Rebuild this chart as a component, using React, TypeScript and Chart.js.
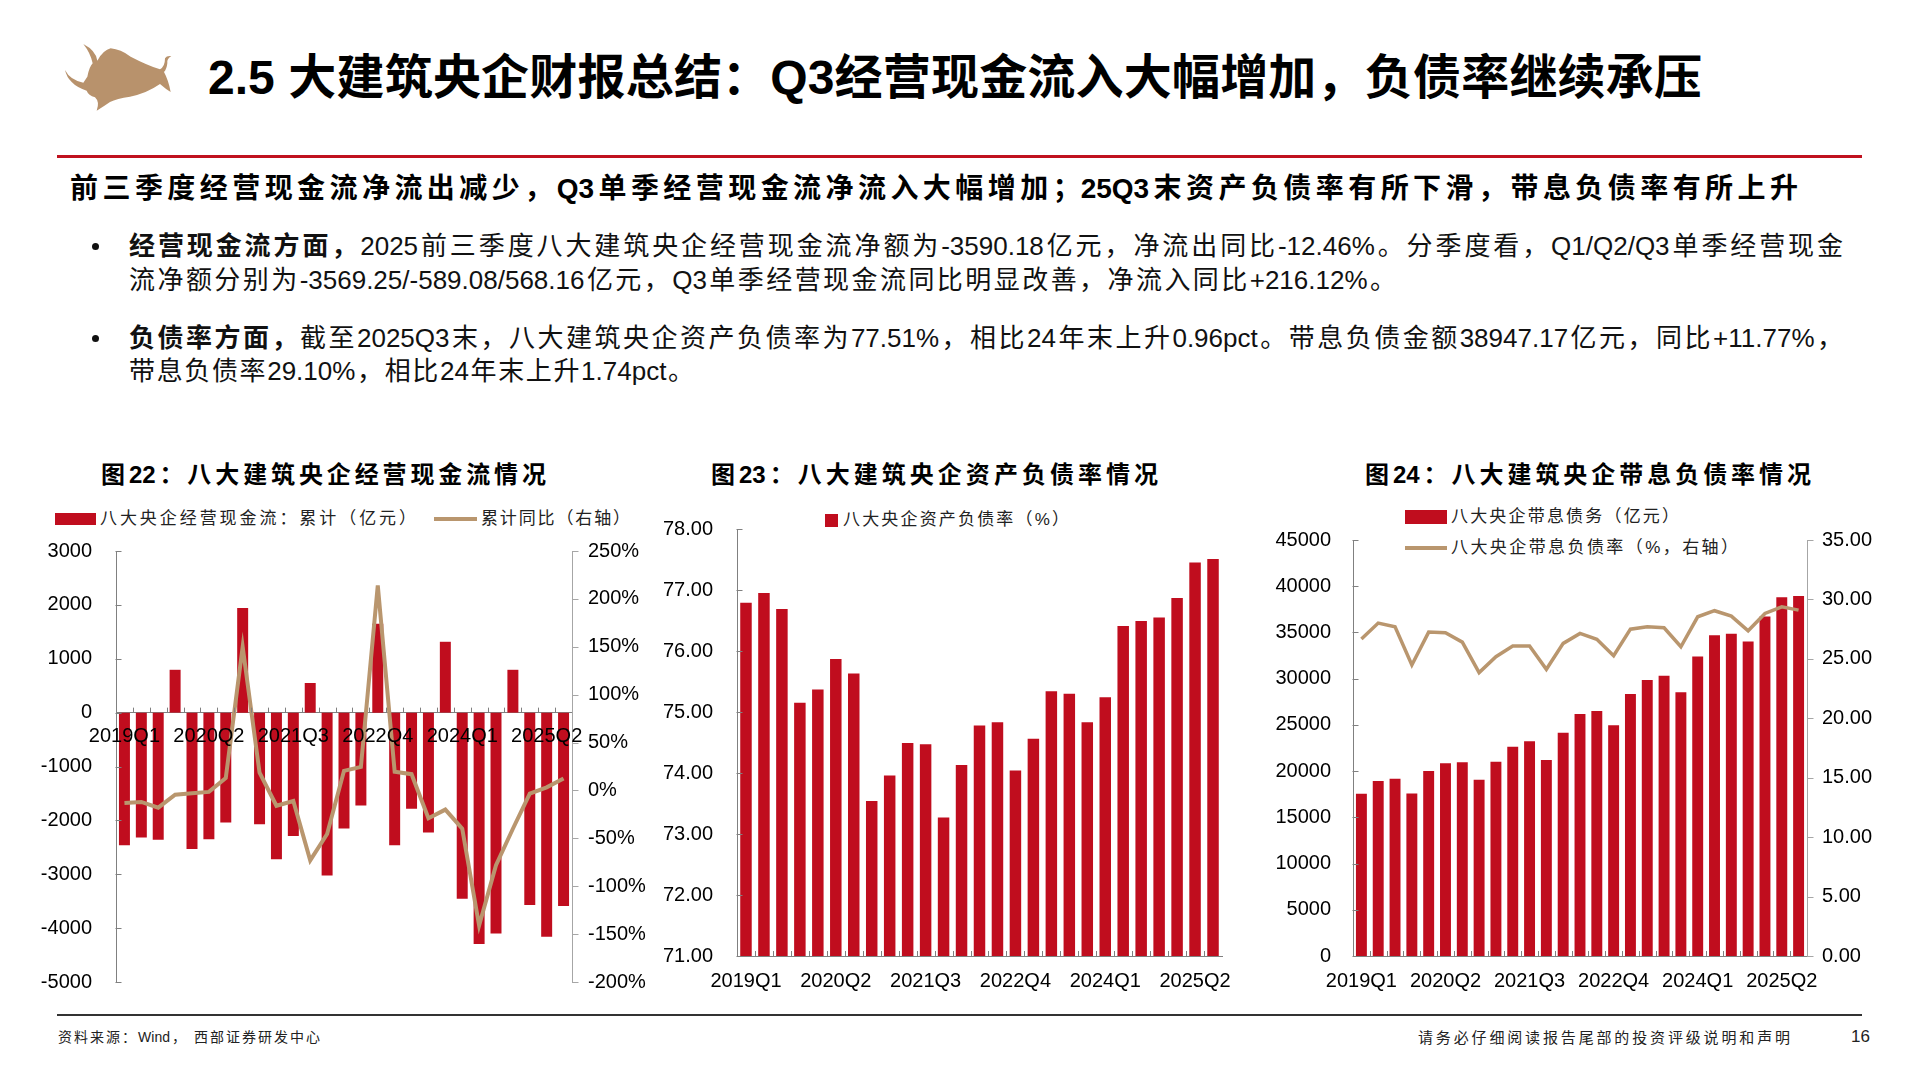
import React, { useEffect, useRef } from 'react';
import { Chart, registerables } from 'chart.js';

Chart.register(...registerables);

// ---------- data ----------
const quarters: string[] = [
  '2019Q1', '2019Q2', '2019Q3', '2019Q4',
  '2020Q1', '2020Q2', '2020Q3', '2020Q4',
  '2021Q1', '2021Q2', '2021Q3', '2021Q4',
  '2022Q1', '2022Q2', '2022Q3', '2022Q4',
  '2023Q1', '2023Q2', '2023Q3', '2023Q4',
  '2024Q1', '2024Q2', '2024Q3', '2024Q4',
  '2025Q1', '2025Q2', '2025Q3',
];
const xTickLabels: string[] = ['2019Q1', '2020Q2', '2021Q3', '2022Q4', '2024Q1', '2025Q2'];

// 图22 八大央企经营现金流：累计（亿元）
const cashFlowCum: number[] = [
  -2460, -2320, -2360, 795,
  -2530, -2350, -2040, 1940,
  -2070, -2720, -2290, 550,
  -3025, -2150, -1725, 1650,
  -2460, -1785, -2225, 1315,
  -3455, -4295, -4101, 795,
  -3569.25, -4158.33, -3590.18,
];
// 累计同比（右轴，%）
const cashFlowYoY: number[] = [
  -13, -12, -18, -4.5,
  -3, -1.5, 13, 150,
  18.5, -16, -11, -73,
  -45.5, 20.5, 24.5, 214,
  19.5, 17, -29, -20,
  -40, -141, -78, -40,
  -3.3, 3.2, 12.46,
];
const cashLeftTicks = { min: -5000, max: 3000, step: 1000 };
const cashRightTicks = { min: -200, max: 250, step: 50 };

// 图23 八大央企资产负债率（%）
const assetLiabRatio: number[] = [
  76.79, 76.95, 76.69, 75.15,
  75.37, 75.87, 75.63, 73.54,
  73.96, 74.49, 74.47, 73.27,
  74.13, 74.78, 74.83, 74.04,
  74.56, 75.34, 75.30, 74.83,
  75.24, 76.41, 76.49, 76.55,
  76.87, 77.45, 77.51,
];
const ratioTicks = { min: 71, max: 78, step: 1 };

// 图24 八大央企带息债务（亿元）
const interestDebt: number[] = [
  17550, 18920, 19170, 17590,
  20000, 20860, 20970, 19070,
  21010, 22630, 23240, 21190,
  24140, 26190, 26510, 24960,
  28350, 29860, 30320, 28530,
  32410, 34710, 34850, 34030,
  36730, 38800, 38947.17,
];
// 八大央企带息负债率（%，右轴）
const interestDebtRatio: number[] = [
  26.67, 28.01, 27.7, 24.48,
  27.25, 27.2, 26.41, 23.84,
  25.18, 26.08, 26.08, 24.12,
  26.3, 27.14, 26.64, 25.27,
  27.5, 27.7, 27.62, 26.02,
  28.54, 29.05, 28.6, 27.36,
  28.82, 29.38, 29.1,
];
const debtLeftTicks = { min: 0, max: 45000, step: 5000 };
const debtRightTicks = { min: 0, max: 35, step: 5 };

// ---------- styles ----------
const RED = '#C00D1E';
const TAN = '#B9966E';
const AXIS = '#808080';
const AXIS_LIGHT = '#A6A6A6';
const FONT_NUM = '"Liberation Sans", Arial, sans-serif';
const FONT_CJK = '"Liberation Sans", "Noto Sans CJK SC", sans-serif';
const tickFont = { family: FONT_NUM, size: 20 };

const tickMarks = {
  id: 'tickMarks',
  afterDatasetsDraw(chart: any) {
    const ctx = chart.ctx;
    ctx.save();
    ctx.lineWidth = 1;
    Object.values(chart.scales).forEach((s: any) => {
      ctx.strokeStyle = s.options.border.color;
      if (s.axis === 'y') {
        const x = s.position === 'left' ? Math.round(s.right) - 0.5 : Math.round(s.left) + 0.5;
        s.ticks.forEach((_t: any, i: number) => {
          const y = Math.round(s.getPixelForTick(i)) + 0.5;
          ctx.beginPath();
          ctx.moveTo(x, y);
          ctx.lineTo(x + 6, y);
          ctx.stroke();
        });
      } else {
        const pos = s.options.position;
        const y = typeof pos === 'object' ? chart.scales.y.getPixelForValue(0) : s.top;
        const n = chart.data.labels.length;
        for (let i = 1; i < n; i++) {
          const x = Math.round(s.left + (i * (s.right - s.left)) / n) + 0.5;
          ctx.beginPath();
          ctx.moveTo(x, y);
          ctx.lineTo(x, y - 5);
          ctx.stroke();
        }
      }
    });
    ctx.restore();
  },
};

function xAxis(padding: number, extra: any = {}) {
  return {
    type: 'category',
    offset: true,
    grid: { display: false, drawTicks: false },
    border: { display: true, color: AXIS, width: 1 },
    ticks: {
      autoSkip: false,
      maxRotation: 0,
      minRotation: 0,
      padding,
      z: 1,
      color: '#000',
      font: tickFont,
      callback: function (this: any, v: any) {
        const lab = this.getLabelForValue(v);
        return xTickLabels.includes(lab) ? lab : '';
      },
    },
    afterFit: (s: any) => {
      s.height = 44;
    },
    ...extra,
  };
}

function yAxis(position: string, t: { min: number; max: number; step: number }, width: number, padding: number, fmt: (v: number) => string, color: string) {
  return {
    position,
    min: t.min,
    max: t.max,
    grid: { display: false, drawTicks: false },
    border: { display: true, color, width: 1 },
    ticks: { stepSize: t.step, padding, color: '#000', font: tickFont, callback: (v: any) => fmt(Number(v)) },
    afterFit: (s: any) => {
      s.width = width;
    },
  };
}

const baseOptions = (padding: any) => ({
  responsive: false,
  maintainAspectRatio: false,
  animation: false,
  devicePixelRatio: 1,
  layout: { padding },
  plugins: { legend: { display: false }, tooltip: { enabled: false } },
});

function cashFlowConfig(): any {
  return {
    type: 'bar',
    data: {
      labels: quarters,
      datasets: [
        { type: 'line', label: '累计同比（右轴）', data: cashFlowYoY, yAxisID: 'y1', borderColor: TAN, borderWidth: 4, pointRadius: 0, tension: 0, order: 0 },
        { type: 'bar', label: '八大央企经营现金流：累计（亿元）', data: cashFlowCum, yAxisID: 'y', backgroundColor: RED, barPercentage: 0.65, categoryPercentage: 1, order: 1 },
      ],
    },
    options: {
      ...baseOptions({ top: 0, bottom: 0, left: 0, right: 0 }),
      scales: {
        x: xAxis(12, { position: { y: 0 } }),
        y: yAxis('left', cashLeftTicks, 76, 24, (v) => String(v), AXIS),
        y1: yAxis('right', cashRightTicks, 88, 16, (v) => v + '%', AXIS_LIGHT),
      },
    },
    plugins: [tickMarks],
  };
}

function ratioConfig(): any {
  return {
    type: 'bar',
    data: {
      labels: quarters,
      datasets: [
        { label: '八大央企资产负债率（%）', data: assetLiabRatio, yAxisID: 'y', backgroundColor: RED, barPercentage: 0.64, categoryPercentage: 1 },
      ],
    },
    options: {
      ...baseOptions({ top: 0, bottom: 0, left: 0, right: 18 }),
      scales: {
        x: xAxis(13),
        y: yAxis('left', ratioTicks, 87, 24, (v) => v.toFixed(2), AXIS),
      },
    },
    plugins: [tickMarks],
  };
}

function debtConfig(): any {
  return {
    type: 'bar',
    data: {
      labels: quarters,
      datasets: [
        { type: 'line', label: '八大央企带息负债率（%，右轴）', data: interestDebtRatio, yAxisID: 'y1', borderColor: TAN, borderWidth: 3.5, pointRadius: 0, tension: 0, order: 0 },
        { type: 'bar', label: '八大央企带息债务（亿元）', data: interestDebt, yAxisID: 'y', backgroundColor: RED, barPercentage: 0.65, categoryPercentage: 1, order: 1 },
      ],
    },
    options: {
      ...baseOptions({ top: 0, bottom: 0, left: 0, right: 0 }),
      scales: {
        x: xAxis(13),
        y: yAxis('left', debtLeftTicks, 93, 22, (v) => String(v), AXIS),
        y1: yAxis('right', debtRightTicks, 95, 15, (v) => v.toFixed(2), AXIS_LIGHT),
      },
    },
    plugins: [tickMarks],
  };
}

function ChartBox({ left, top, width, height, make }: { left: number; top: number; width: number; height: number; make: () => any }) {
  const ref = useRef<HTMLCanvasElement>(null);
  useEffect(() => {
    const chart = new Chart(ref.current as HTMLCanvasElement, make());
    return () => chart.destroy();
  }, []);
  return (
    <div style={{ position: 'absolute', left, top, width, height }}>
      <canvas ref={ref} width={width} height={height} style={{ width, height, display: 'block' }} />
    </div>
  );
}

function T({ x, y, w, size, weight = 400, justify = false, family = FONT_CJK, color = '#000', children }: any) {
  const lh = Math.round(size * 1.4);
  return (
    <div
      style={{
        position: 'absolute',
        left: x,
        top: y - lh / 2,
        width: w,
        fontSize: size,
        lineHeight: lh + 'px',
        fontWeight: weight,
        fontFamily: family,
        color,
        textAlign: justify ? 'justify' : 'left',
        textAlignLast: justify ? 'justify' : 'auto',
        whiteSpace: justify ? 'normal' : 'nowrap',
      } as any}
    >
      {children}
    </div>
  );
}

function Rect({ x, y, w, h, c, r = 0 }: any) {
  return <div style={{ position: 'absolute', left: x, top: y, width: w, height: h, background: c, borderRadius: r }} />;
}

export default function App() {
  return (
    <div style={{ position: 'absolute', left: 0, top: 0, width: 1920, height: 1080, background: '#fff', overflow: 'hidden' }}>
      {/* logo */}
      <svg style={{ position: 'absolute', left: 50, top: 30 }} width={140} height={90} viewBox="0 0 420 270">
        <path
          d="M45,120 Q60,150 100,158 L112,140 Q118,110 128,100 Q122,70 100,42 Q138,62 142,92 Q160,60 182,55 Q212,58 242,80 Q290,105 330,118 Q345,110 345,85 Q350,76 364,78 Q350,86 352,100 Q350,118 342,126 Q356,152 362,186 Q348,178 330,162 Q290,190 240,200 Q200,206 180,216 Q160,230 140,242 Q150,216 135,202 Q115,196 110,182 Q80,172 65,156 Q50,142 45,120 Z"
          fill="#B8926C"
        />
      </svg>
      <T x={208} y={77} w={1494} size={48} weight={700} justify>
        2.5 大建筑央企财报总结：Q3经营现金流入大幅增加，负债率继续承压
      </T>
      <Rect x={57} y={155} w={1805} h={3} c="#C0121F" />
      <T x={70} y={188} w={1728} size={28} weight={700} justify>
        前三季度经营现金流净流出减少，Q3单季经营现金流净流入大幅增加；25Q3末资产负债率有所下滑，带息负债率有所上升
      </T>

      {/* bullets */}
      <Rect x={92} y={243} w={7} h={7} c="#111" r={4} />
      <T x={129} y={246} w={1714} size={26} justify color="#111">
        <b>经营现金流方面，</b>2025前三季度八大建筑央企经营现金流净额为-3590.18亿元，净流出同比-12.46%。分季度看，Q1/Q2/Q3单季经营现金
      </T>
      <T x={129} y={280} w={1267} size={26} justify color="#111">
        流净额分别为-3569.25/-589.08/568.16亿元，Q3单季经营现金流同比明显改善，净流入同比+216.12%。
      </T>
      <Rect x={92} y={335} w={7} h={7} c="#111" r={4} />
      <T x={129} y={338} w={1714} size={26} justify color="#111">
        <b>负债率方面，</b>截至2025Q3末，八大建筑央企资产负债率为77.51%，相比24年末上升0.96pct。带息负债金额38947.17亿元，同比+11.77%，
      </T>
      <T x={129} y={371} w={565} size={26} justify color="#111">
        带息负债率29.10%，相比24年末上升1.74pct。
      </T>

      {/* chart titles */}
      <T x={101} y={475} w={445} size={24} weight={700} justify>图22：八大建筑央企经营现金流情况</T>
      <T x={711} y={475} w={447} size={24} weight={700} justify>图23：八大建筑央企资产负债率情况</T>
      <T x={1365} y={475} w={446} size={24} weight={700} justify>图24：八大建筑央企带息负债率情况</T>

      {/* legends chart 1 */}
      <Rect x={55} y={513} w={41} h={12} c={RED} />
      <T x={100} y={519} w={316} size={17} justify color="#222">八大央企经营现金流：累计（亿元）</T>
      <Rect x={434} y={517} w={43} h={4} c={TAN} />
      <T x={481} y={519} w={149} size={17} justify color="#222">累计同比（右轴）</T>

      {/* legend chart 2 */}
      <Rect x={825} y={514} w={13} h={13} c={RED} />
      <T x={843} y={520} w={226} size={17} justify color="#222">八大央企资产负债率（%）</T>

      {/* legends chart 3 */}
      <Rect x={1405} y={510} w={42} h={14} c={RED} />
      <T x={1451} y={517} w={228} size={17} justify color="#222">八大央企带息债务（亿元）</T>
      <Rect x={1405} y={546} w={42} h={4} c={TAN} />
      <T x={1451} y={548} w={287} size={17} justify color="#222">八大央企带息负债率（%，右轴）</T>

      <ChartBox left={40} top={515} width={620} height={503} make={cashFlowConfig} />
      <ChartBox left={650} top={493} width={590} height={507} make={ratioConfig} />
      <ChartBox left={1260} top={506} width={642} height={494} make={debtConfig} />

      {/* footer */}
      <Rect x={57} y={1014} w={1805} h={2} c="#333" />
      <T x={58} y={1037} w={262} size={14} justify color="#222">资料来源：Wind， 西部证券研发中心</T>
      <T x={1418} y={1037} w={372} size={15} justify color="#222">请务必仔细阅读报告尾部的投资评级说明和声明</T>
      <T x={1851} y={1037} w={30} size={17} family={FONT_NUM} color="#222">16</T>
    </div>
  );
}
